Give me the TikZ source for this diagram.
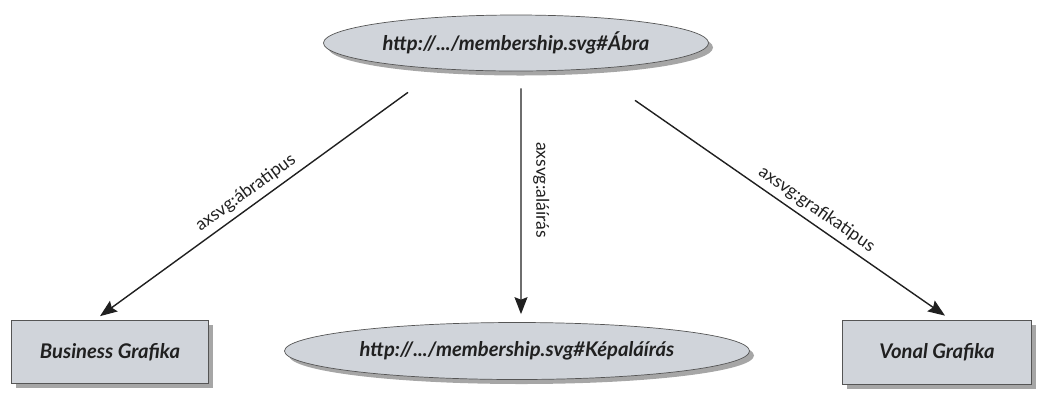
\documentclass[tikz,border=0pt]{standalone}
\usepackage{fontspec}
\setmainfont{Lato}
\usepackage{tikz}
\usetikzlibrary{shapes.geometric,arrows.meta,positioning,shadows}
\definecolor{nodegray}{HTML}{D0D4DA}
\definecolor{edgegray}{HTML}{555555}
\definecolor{ink}{HTML}{202020}
\newcommand{\urilabel}[1]{\makebox[0pt]{#1}}

\begin{document}
\begin{tikzpicture}[font=\fontsize{10}{12}\selectfont,uri/.style={ellipse,draw=edgegray,fill=nodegray,inner sep=0pt,text=ink,font=\fontsize{11.5}{13}\selectfont\bfseries\itshape,drop shadow={shadow xshift=0.09cm,shadow yshift=-0.09cm,opacity=0.7}},lit/.style={rectangle,draw=edgegray,fill=nodegray,text=ink,font=\fontsize{11.5}{13}\selectfont\bfseries\itshape,drop shadow={shadow xshift=0.09cm,shadow yshift=-0.09cm,opacity=0.7}},rel/.style={-{Stealth[length=3.4mm,width=2.6mm,inset=0.5mm]},thick,ink},rellabel/.style={sloped,above,text=ink,inner sep=3pt}]
\useasboundingbox (0,0) rectangle (20.8,-7.84);
\node[uri,minimum width=7.7cm,minimum height=1.12cm] (abra) at (10.32,-0.86) {\urilabel{http://.../membership.svg\#Ábra}};
\node[lit,minimum width=3.94cm,minimum height=1.26cm] (business) at (2.2,-7.04) {Business Grafika};
\node[uri,minimum width=9.3cm,minimum height=1.14cm] (kep) at (10.34,-7.02) {\urilabel{http://.../membership.svg\#Képaláírás}};
\node[lit,minimum width=3.78cm,minimum height=1.28cm] (vonal) at (18.74,-7.04) {Vonal Grafika};
\draw[rel] ([shift={(-2.16,-0.42)}]abra.south) -- node[rellabel,pos=0.5] {axsvg:ábratipus} ([shift={(-0.2,0.08)}]business.north);
\draw[rel] ([shift={(0.1,-0.34)}]abra.south) -- node[rotate=-90,anchor=south,text=ink,inner sep=6.5pt,pos=0.45] {axsvg:aláírás} ([shift={(0.08,0.16)}]kep.north);
\draw[rel] ([shift={(2.38,-0.58)}]abra.south) -- node[rellabel,pos=0.56] {axsvg:grafikatipus} ([shift={(0.16,0.08)}]vonal.north);
\end{tikzpicture}
\end{document}
